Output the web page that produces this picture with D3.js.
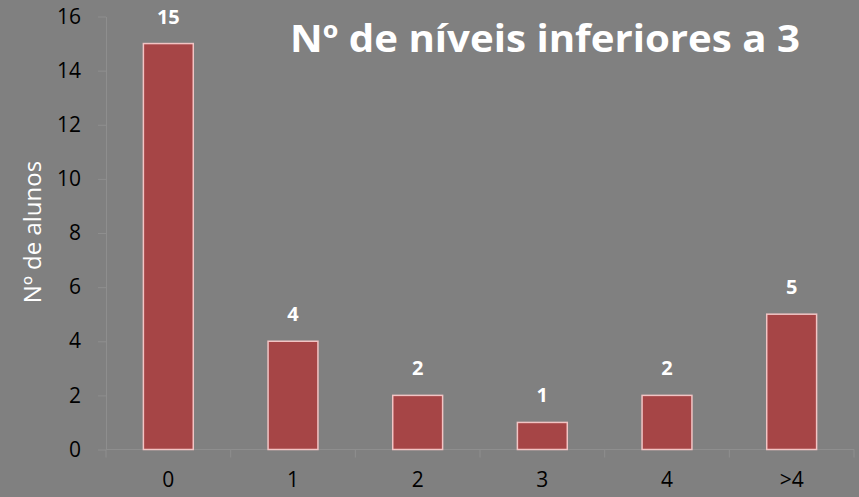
<!DOCTYPE html>
<html lang="pt">
  <head>
    <meta charset="utf-8">
    <title>Nº de níveis inferiores a 3</title>
    <style>
      body { margin: 0; background: #808080; }
      svg { display: block; background: #808080; }
      .axis path, .axis line { stroke: #8e8e8e; }
      .axis text { fill: #000; font-family: "Open Sans", sans-serif; font-size: 21px; }
    </style>
  </head>
  <body>
    <script src="https://d3js.org/d3.v7.min.js"></script>
    <script>
      // data
      const categories = ["0", "1", "2", "3", "4", ">4"];
      const alunos = [15, 4, 2, 1, 2, 5];
      const yTicks = [0, 2, 4, 6, 8, 10, 12, 14, 16];

      const w = 859, h = 497;
      const padL = 106, padR = 854, padT = 16.5, padB = 449.5;

      const svg = d3.select("body").append("svg")
        .attr("width", w)
        .attr("height", h);

      const x = d3.scaleBand()
        .domain(categories)
        .range([padL, padR])
        .paddingInner(0.6)
        .paddingOuter(0.3);

      const xGrid = d3.scaleBand().domain(categories).range([padL, padR]);

      const y = d3.scaleLinear().domain([0, 16]).range([padB, padT]);

      // y axis
      svg.append("g")
        .attr("class", "axis")
        .attr("transform", `translate(${padL},0)`)
        .call(d3.axisLeft(y).tickValues(yTicks).tickSize(8).tickSizeOuter(0).tickPadding(17));

      // x axis line + ticks at band boundaries
      const xAxis = svg.append("g")
        .attr("class", "axis")
        .attr("transform", `translate(0,${padB})`)
        .call(d3.axisBottom(x).tickSize(0).tickPadding(23));
      xAxis.select(".domain").attr("d", `M${padL},0H${padR}`);
      xAxis.selectAll(".sep")
        .data(categories.map(c => xGrid(c)).concat([padR]))
        .enter().append("line")
        .attr("class", "sep")
        .attr("x1", d => d).attr("x2", d => d)
        .attr("y1", 0).attr("y2", 8);

      // bars
      svg.selectAll("rect.bar")
        .data(alunos)
        .enter().append("rect")
        .attr("class", "bar")
        .attr("x", (d, i) => x(categories[i]))
        .attr("y", d => y(d))
        .attr("width", x.bandwidth())
        .attr("height", d => y(0) - y(d))
        .attr("fill", "#a64546")
        .attr("stroke", "#f2c4c4")
        .attr("stroke-width", 1.5);

      // value labels
      svg.selectAll("text.val")
        .data(alunos)
        .enter().append("text")
        .attr("class", "val")
        .attr("x", (d, i) => x(categories[i]) + x.bandwidth() / 2)
        .attr("y", d => y(d) - 20)
        .attr("text-anchor", "middle")
        .attr("fill", "#fff")
        .attr("font-family", "'Open Sans', sans-serif")
        .attr("font-weight", "bold")
        .attr("font-size", "20px")
        .text(d => d);

      // y label
      svg.append("text")
        .attr("transform", "translate(41,232) rotate(-90)")
        .attr("text-anchor", "middle")
        .attr("fill", "#fff")
        .attr("font-family", "'Open Sans', sans-serif")
        .attr("font-size", "24px")
        .text("Nº de alunos");

      // title
      svg.append("text")
        .attr("x", 545)
        .attr("y", 52)
        .attr("text-anchor", "middle")
        .attr("fill", "#fff")
        .attr("font-family", "'Open Sans', sans-serif")
        .attr("font-weight", "bold")
        .attr("font-size", "37px")
        .attr("textLength", 510)
        .attr("lengthAdjust", "spacingAndGlyphs")
        .text("Nº de níveis inferiores a 3");
    </script>
  </body>
</html>
